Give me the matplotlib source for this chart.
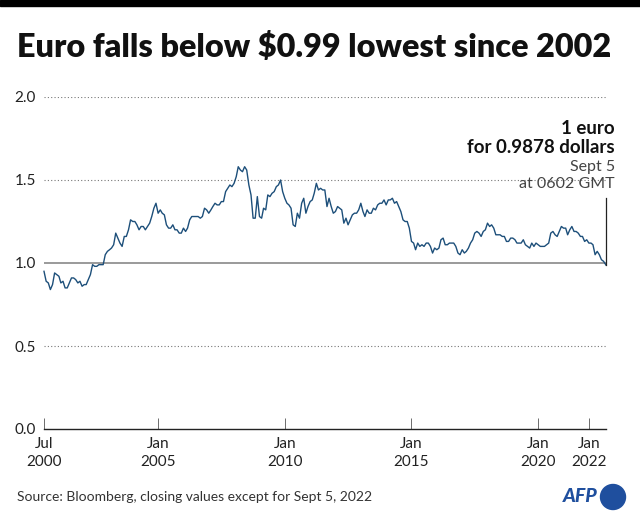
import numpy as np
import pandas as pd
import matplotlib
matplotlib.use("Agg")
import matplotlib.pyplot as plt
from matplotlib.patches import Ellipse, Rectangle

plt.rcParams['font.family'] = ['Lato', 'DejaVu Sans']

# euro in dollars, one value per month (from Jul 2000)
eur_2000 = [0.95, 0.89, 0.88, 0.84, 0.87, 0.94]
eur_2001 = [0.93, 0.92, 0.88, 0.89, 0.85, 0.85, 0.88, 0.91, 0.91, 0.90, 0.88, 0.89]
eur_2002 = [0.86, 0.87, 0.87, 0.90, 0.93, 0.99, 0.98, 0.98, 0.99, 0.99, 0.99, 1.05]
eur_2003 = [1.07, 1.08, 1.09, 1.11, 1.18, 1.15, 1.12, 1.10, 1.16, 1.16, 1.20, 1.26]
eur_2004 = [1.25, 1.25, 1.23, 1.20, 1.22, 1.22, 1.20, 1.22, 1.24, 1.28, 1.33, 1.36]
eur_2005 = [1.30, 1.32, 1.30, 1.29, 1.23, 1.21, 1.21, 1.23, 1.20, 1.20, 1.18, 1.18]
eur_2006 = [1.21, 1.19, 1.21, 1.26, 1.28, 1.28, 1.28, 1.28, 1.27, 1.28, 1.33, 1.32]
eur_2007 = [1.30, 1.32, 1.34, 1.36, 1.35, 1.35, 1.37, 1.37, 1.43, 1.45, 1.47, 1.46]
eur_2008 = [1.48, 1.52, 1.58, 1.56, 1.55, 1.58, 1.56, 1.47, 1.41, 1.27, 1.27, 1.40]
eur_2009 = [1.28, 1.27, 1.33, 1.32, 1.41, 1.40, 1.42, 1.43, 1.46, 1.47, 1.50, 1.43]
eur_2010 = [1.39, 1.36, 1.35, 1.33, 1.23, 1.22, 1.30, 1.27, 1.36, 1.39, 1.30, 1.34]
eur_2011 = [1.37, 1.38, 1.42, 1.48, 1.44, 1.45, 1.44, 1.44, 1.34, 1.39, 1.34, 1.30]
eur_2012 = [1.31, 1.34, 1.33, 1.32, 1.24, 1.27, 1.23, 1.26, 1.29, 1.30, 1.30, 1.32]
eur_2013 = [1.36, 1.31, 1.28, 1.32, 1.30, 1.30, 1.33, 1.32, 1.35, 1.36, 1.36, 1.38]
eur_2014 = [1.35, 1.38, 1.38, 1.39, 1.36, 1.37, 1.34, 1.31, 1.26, 1.25, 1.25, 1.21]
eur_2015 = [1.13, 1.12, 1.08, 1.12, 1.10, 1.11, 1.10, 1.12, 1.12, 1.10, 1.06, 1.09]
eur_2016 = [1.08, 1.09, 1.14, 1.15, 1.11, 1.11, 1.12, 1.12, 1.12, 1.10, 1.06, 1.05]
eur_2017 = [1.08, 1.06, 1.07, 1.09, 1.12, 1.14, 1.18, 1.19, 1.18, 1.16, 1.19, 1.20]
eur_2018 = [1.24, 1.22, 1.23, 1.21, 1.17, 1.17, 1.17, 1.16, 1.16, 1.13, 1.13, 1.15]
eur_2019 = [1.15, 1.14, 1.12, 1.12, 1.12, 1.14, 1.11, 1.10, 1.09, 1.12, 1.10, 1.12]
eur_2020 = [1.11, 1.10, 1.10, 1.10, 1.11, 1.12, 1.18, 1.19, 1.17, 1.16, 1.19, 1.22]
eur_2021 = [1.21, 1.21, 1.17, 1.20, 1.22, 1.19, 1.19, 1.18, 1.16, 1.16, 1.13, 1.14]
eur_2022 = [1.12, 1.12, 1.11, 1.05, 1.07, 1.05, 1.02, 1.01]

last_date = "2022-09-05"
last_value = 0.9878

tick_dates = ["2000-07-01", "2005-01-01", "2010-01-01", "2015-01-01", "2020-01-01", "2022-01-01"]
tick_labels = ["Jul\n2000", "Jan\n2005", "Jan\n2010", "Jan\n2015", "Jan\n2020", "Jan\n2022"]
y_ticks = [0.0, 0.5, 1.0, 1.5, 2.0]

monthly = (eur_2000 + eur_2001 + eur_2002 + eur_2003 + eur_2004 + eur_2005 + eur_2006
           + eur_2007 + eur_2008 + eur_2009 + eur_2010 + eur_2011 + eur_2012 + eur_2013
           + eur_2014 + eur_2015 + eur_2016 + eur_2017 + eur_2018 + eur_2019 + eur_2020
           + eur_2021 + eur_2022)
dates = list(pd.date_range("2000-07-01", periods=len(monthly), freq="MS")) + [pd.Timestamp(last_date)]
values = monthly + [last_value]

fig = plt.figure(figsize=(6.4, 5.19), dpi=100)
ax = fig.add_axes([44 / 640, 1 - 429 / 519, (606 - 44) / 640, (429 - 97) / 519])

# top black bar
fig.patches.append(Rectangle((0, 1 - 6 / 519), 1, 6 / 519, transform=fig.transFigure,
                             color="black", zorder=5))

for y in y_ticks[1:]:
    if y == 1.0:
        ax.axhline(y, color="#9a9a9a", lw=1.4, zorder=1)
    else:
        ax.axhline(y, color="#777777", lw=0.8, ls=(0, (1, 2)), zorder=1)

ax.plot(dates, values, color="#1d4f7a", lw=1.0, zorder=3, clip_on=False)

# pointer to last value
ax.plot([pd.Timestamp(last_date)] * 2, [last_value, 1.39], color="#222222", lw=0.9,
        zorder=4, clip_on=False)

ax.set_xlim(pd.Timestamp("2000-07-01"), pd.Timestamp(last_date))
ax.set_ylim(0, 2.0)
for s in ["top", "right", "left"]:
    ax.spines[s].set_visible(False)
ax.spines["bottom"].set_color("#222222")
ax.spines["bottom"].set_linewidth(1.0)

ax.set_xticks(pd.to_datetime(tick_dates))
ax.set_xticklabels(tick_labels, fontsize=11, color="#222222", linespacing=1.3)
ax.tick_params(axis="x", direction="in", length=8, width=0.6, color="#555555", pad=6)
ax.set_yticks(y_ticks)
ax.set_yticklabels([f"{v:.1f}" for v in y_ticks], fontsize=11, color="#222222")
ax.tick_params(axis="y", length=0, pad=6)

fig.text(17 / 640, 1 - 57 / 519, "Euro falls below $0.99 lowest since 2002",
         fontsize=23.3, fontweight="heavy", va="baseline", ha="left", color="#111111")

rx = 615 / 640
fig.text(rx, 1 - 128 / 519, "1 euro", fontsize=13.5, fontweight="bold", ha="right", va="center", color="#111111")
fig.text(rx, 1 - 148 / 519, "for 0.9878 dollars", fontsize=13.5, fontweight="bold", ha="right", va="center", color="#111111")
fig.text(rx, 1 - 167 / 519, "Sept 5", fontsize=11.5, fontweight="normal", ha="right", va="center", color="#444444")
fig.text(rx, 1 - 184 / 519, "at 0602 GMT", fontsize=11.5, fontweight="normal", ha="right", va="center", color="#444444")

fig.text(17 / 640, 1 - 497 / 519, "Source: Bloomberg, closing values except for Sept 5, 2022",
         fontsize=10, ha="left", va="center", color="#333333")

# AFP logo
fig.text(598 / 640, 1 - 497 / 519, "AFP", fontsize=14, fontweight="black", style="italic",
         ha="right", va="center", color="#1f4f9e")
fig.patches.append(Ellipse((613 / 640, 1 - 497 / 519), 25 / 640, 25 / 519,
                           transform=fig.transFigure, color="#1f4f9e"))

fig.savefig("out.png", dpi=100)
